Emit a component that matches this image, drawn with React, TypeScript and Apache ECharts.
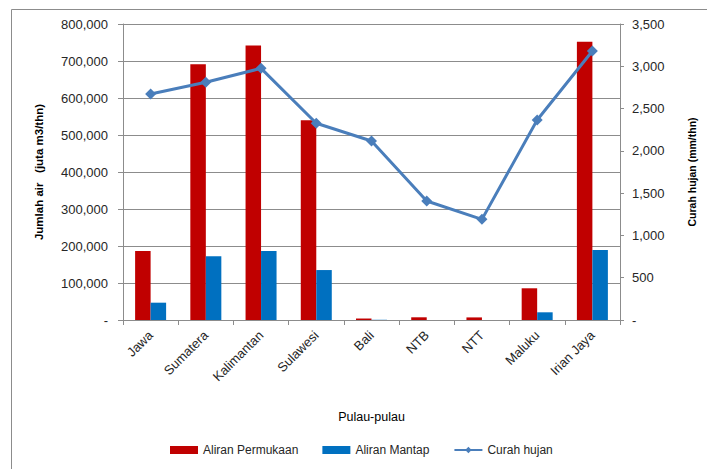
import React, { useEffect, useRef } from "react";
import * as echarts from "echarts";

const categories = ["Jawa", "Sumatera", "Kalimantan", "Sulawesi", "Bali", "NTB", "NTT", "Maluku", "Irian Jaya"];
const aliranPermukaan = [186500, 691000, 742000, 540000, 4000, 7300, 7000, 85700, 752000];
const aliranMantap = [46800, 172000, 186500, 135000, 600, 0, 0, 20800, 189000];
const curahHujan = [2672, 2811, 2976, 2326, 2117, 1407, 1190, 2365, 3181];

const FONT = "Liberation Sans";
const TXT = "#262626";
const GRID = "#8c8c8c";

const fmt = (v: number) => (v === 0 ? "-" : v.toLocaleString("en-US"));

export default function App() {
  const ref = useRef<HTMLDivElement>(null);
  useEffect(() => {
    document.body.style.margin = "0";
    const chart = echarts.init(ref.current!, null, { renderer: "svg" });
    chart.setOption({
      animation: false,
      backgroundColor: "#ffffff",
      textStyle: { fontFamily: FONT },
      graphic: [
        {
          type: "rect",
          shape: { x: 11.5, y: 9.5, width: 800, height: 600 },
          style: { fill: "none", stroke: "#8c8c8c", lineWidth: 1 },
          silent: true,
        },
      ],
      grid: { left: 123, right: 87, top: 24, bottom: 149 },
      legend: {
        bottom: 8,
        left: 165,
        itemWidth: 28,
        itemHeight: 8,
        itemGap: 24,
        textStyle: { fontFamily: FONT, fontSize: 12, color: TXT },
        data: [
          { name: "Aliran Permukaan", icon: "rect" },
          { name: "Aliran Mantap", icon: "rect" },
          { name: "Curah hujan" },
        ],
      },
      xAxis: {
        type: "category",
        data: categories,
        boundaryGap: true,
        name: "Pulau-pulau",
        nameLocation: "middle",
        nameGap: 90,
        nameTextStyle: { fontFamily: FONT, fontSize: 12.5, color: "#000" },
        axisLine: { lineStyle: { color: GRID } },
        axisTick: { show: true, length: 5, lineStyle: { color: GRID } },
        axisLabel: { rotate: 45, fontSize: 13, color: TXT, fontFamily: FONT, margin: 13 },
      },
      yAxis: [
        {
          type: "value",
          min: 0,
          max: 800000,
          interval: 100000,
          name: "Jumlah air   (juta m3/thn)",
          nameLocation: "middle",
          nameGap: 78,
          nameTextStyle: { fontFamily: FONT, fontSize: 11.5, fontWeight: "bold", color: "#000" },
          axisLine: { show: true, lineStyle: { color: GRID } },
          axisTick: { show: true, length: 5, lineStyle: { color: GRID } },
          axisLabel: { formatter: fmt, fontSize: 13, color: TXT, fontFamily: FONT, margin: 15 },
          splitLine: { show: true, lineStyle: { color: GRID, width: 1 } },
        },
        {
          type: "value",
          min: 0,
          max: 3500,
          interval: 500,
          position: "right",
          name: "Curah hujan (mm/thn)",
          nameLocation: "middle",
          nameGap: 66,
          nameTextStyle: { fontFamily: FONT, fontSize: 10.5, fontWeight: "bold", color: "#000" },
          axisLine: { show: true, lineStyle: { color: GRID } },
          axisTick: { show: true, length: 4, lineStyle: { color: GRID } },
          axisLabel: { formatter: fmt, fontSize: 13, color: TXT, fontFamily: FONT, margin: 12 },
          splitLine: { show: false },
        },
      ],
      series: [
        {
          name: "Aliran Permukaan",
          type: "bar",
          data: aliranPermukaan,
          barWidth: 15.5,
          barGap: "0%",
          itemStyle: { color: "#C00000" },
        },
        {
          name: "Aliran Mantap",
          type: "bar",
          data: aliranMantap,
          barWidth: 15.5,
          itemStyle: { color: "#0070C0" },
        },
        {
          name: "Curah hujan",
          type: "line",
          yAxisIndex: 1,
          data: curahHujan,
          symbol: "diamond",
          symbolSize: 11,
          lineStyle: { color: "#4A7EBB", width: 3 },
          itemStyle: { color: "#4A7EBB" },
        },
      ],
    });
    return () => chart.dispose();
  }, []);
  return <div ref={ref} style={{ width: 707, height: 469 }} />;
}
